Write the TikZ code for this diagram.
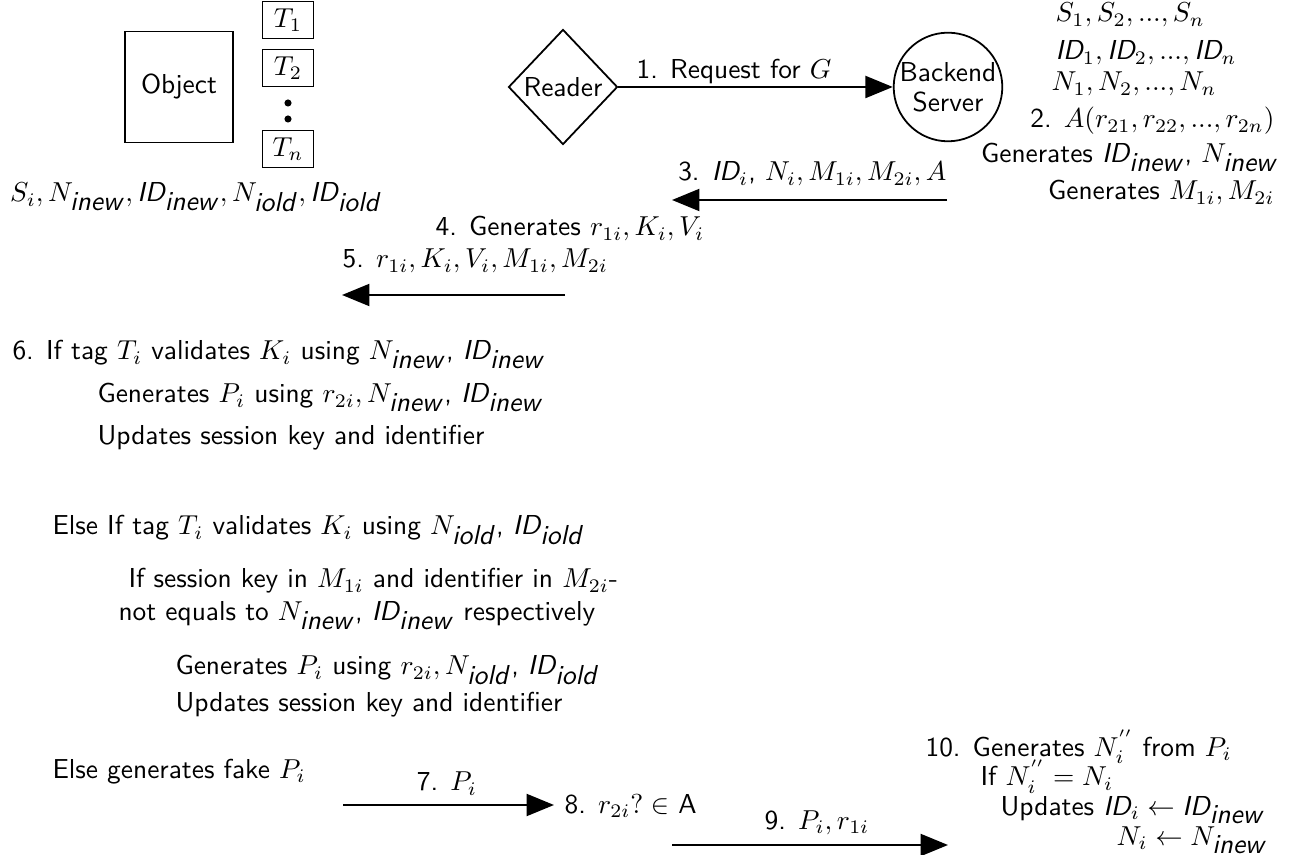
\documentclass[tikz,border=0pt]{standalone}
\renewcommand{\familydefault}{\sfdefault}
\usetikzlibrary{arrows.meta,shapes.geometric}
\newcommand{\myID}{\textit{ID}}
\newcommand{\inew}{\hbox{\textit{inew}}}
\newcommand{\iold}{\hbox{\textit{iold}}}
\begin{document}
\begin{tikzpicture}[x=0.365pt,y=-0.365pt,
  shp/.style={draw,line width=0.65pt,inner sep=0pt},
  tagbox/.style={shp,minimum width=18.6pt,minimum height=13.5pt},
  arr/.style={line width=0.85pt,-{Triangle[length=10pt,width=8pt]}},
  txt/.style={inner sep=0pt}]
\useasboundingbox (0,0) rectangle (1299,855);
% object and tags
\node[shp,minimum width=39.4pt,minimum height=40.5pt] (obj) at (179,87) {Object};
\node[tagbox] (t1) at (288,20) {$T_1$};
\node[tagbox] (t2) at (288,68) {$T_2$};
\node[tagbox] (tn) at (288,149) {$T_n$};
\fill (288,103) circle (1.3pt);
\fill (288,119) circle (1.3pt);
\node[txt,anchor=base] (objlab) at (196,202) {$S_i, N_{\inew}, \myID_{\inew}, N_{\iold}, \myID_{\iold}$};
% reader and server
\node[shp,diamond,minimum width=39.8pt,minimum height=42pt] (reader) at (563,87) {Reader};
\node[shp,circle,minimum size=39.4pt,align=center] (server) at (948,87) {Backend\\[-1pt]Server};
\draw[arr] (reader) -- (server);
\node[txt,anchor=base] (l1) at (734,79) {1. Request for $G$};
% server data
\node[txt,anchor=base west] (sl) at (1055,22) {$S_1, S_2, ..., S_n$};
\node[txt,anchor=base west] (idl) at (1055,60) {$\myID_1, \myID_2, ..., \myID_n$};
\node[txt,anchor=base west] (nl) at (1051,91) {$N_1, N_2, ..., N_n$};
\node[txt,anchor=base east] (l2) at (1275,128) {2. $A(r_{21}, r_{22}, ..., r_{2n})$};
\node[txt,anchor=base east] (g1) at (1279,163) {Generates $\myID_{\inew}$, $N_{\inew}$};
\node[txt,anchor=base east] (g2) at (1275,200) {Generates $M_{1i}, M_{2i}$};
% message 3
\coordinate (a3s) at (947,200);
\coordinate (a3e) at (672,200);
\draw[arr] (a3s) -- (a3e);
\node[txt,anchor=base east] (l3) at (947,181) {3. $\myID_i$, $N_i, M_{1i}, M_{2i}, A$};
\node[txt,anchor=base west] (l4) at (435,236) {4. Generates $r_{1i}, K_i, V_i$};
\node[txt,anchor=base west] (l5) at (342,268) {5. $r_{1i}, K_i, V_i, M_{1i}, M_{2i}$};
\coordinate (a5s) at (565,295);
\coordinate (a5e) at (342,295);
\draw[arr] (a5s) -- (a5e);
% tag processing
\node[txt,anchor=base west] (p1) at (12,360) {6. If tag $T_i$ validates $K_i$ using $N_{\inew}$, $\myID_{\inew}$};
\node[txt,anchor=base west] (p2) at (97,403) {Generates $P_i$ using $r_{2i}, N_{\inew}$, $\myID_{\inew}$};
\node[txt,anchor=base west] (p3) at (97,445) {Updates session key and identifier};
\node[txt,anchor=base west] (p4) at (52,535) {Else If tag $T_i$ validates $K_i$ using $N_{\iold}$, $\myID_{\iold}$};
\node[txt,anchor=base west] (p5) at (128,588) {If session key in $M_{1i}$ and identifier in $M_{2i}$-};
\node[txt,anchor=base west] (p6) at (118,621) {not equals to $N_{\inew}$, $\myID_{\inew}$ respectively};
\node[txt,anchor=base west] (p7) at (175,675) {Generates $P_i$ using $r_{2i}, N_{\iold}$, $\myID_{\iold}$};
\node[txt,anchor=base west] (p8) at (175,711) {Updates session key and identifier};
\node[txt,anchor=base west] (p9) at (52,778) {Else generates fake $P_i$};
% messages 7-10
\coordinate (a7s) at (343,805);
\coordinate (a7e) at (554,805);
\draw[arr] (a7s) -- (a7e);
\node[txt,anchor=base] (l7) at (447,791) {7. $P_i$};
\node[txt,anchor=base west] (l8) at (564,813) {8. $r_{2i}?\in$ A};
\coordinate (a9s) at (672,845);
\coordinate (a9e) at (948,845);
\draw[arr] (a9s) -- (a9e);
\node[txt,anchor=base west] (l9) at (764,829) {9. $P_i, r_{1i}$};
\node[txt,anchor=base west] (q1) at (925,756) {10. Generates $N_i^{''}$ from $P_i$};
\node[txt,anchor=base west] (q2) at (980,786) {If $N_i^{''} = N_i$};
\node[txt,anchor=base west] (q3) at (1000,815) {Updates $\myID_i \leftarrow \myID_{\inew}$};
\node[txt,anchor=base east] (q4) at (1268,845) {$N_i \leftarrow N_{\inew}$};
\end{tikzpicture}
\end{document}
